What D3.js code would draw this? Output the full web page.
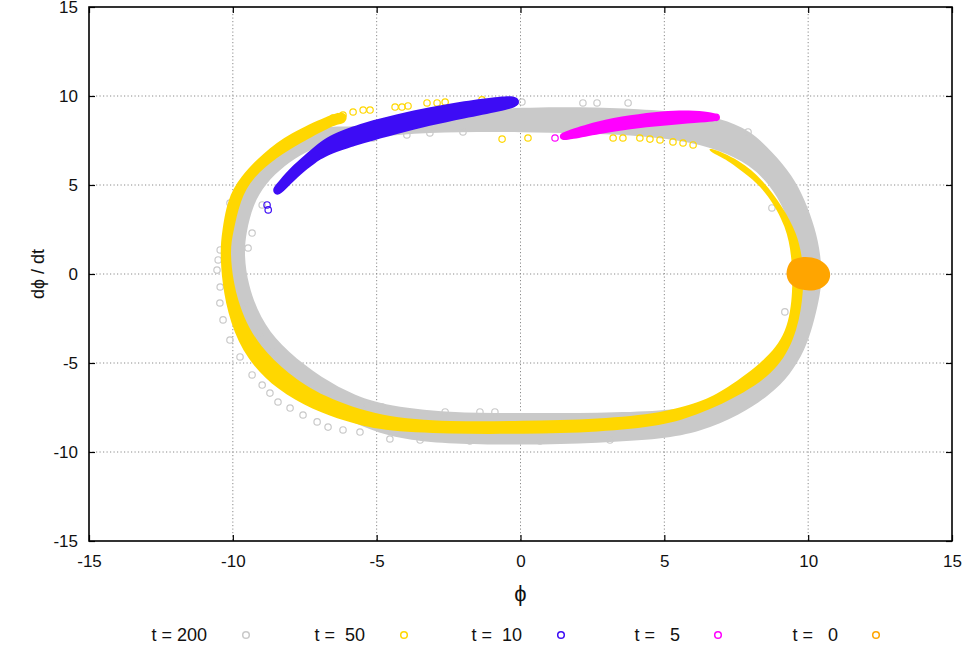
<!DOCTYPE html>
<html>
<head>
<meta charset="utf-8">
<script src="https://cdn.jsdelivr.net/npm/d3@7/dist/d3.min.js"></script>
<style>
  html, body { margin: 0; padding: 0; background: #fff; }
  svg { display: block; font-family: "Liberation Sans", Arial, Helvetica, sans-serif; }
  text { white-space: pre; }
</style>
</head>
<body>
<svg id="chart" width="965" height="648"></svg>
<script>
// Phase portrait (phi, dphi/dt) of an ensemble at several times.
// Dense clouds are given by their boundary samples; isolated points are listed separately.

const tickValues = [-15, -10, -5, 0, 5, 10, 15];
const tickLabels = ["-15", "-10", "-5", "0", "5", "10", "15"];

const legendLabels = ["t = 200", "t =  50", "t =  10", "t =   5", "t =   0"];
const seriesColors = ["#c9c9c9", "#ffd700", "#3d0cf5", "#ff00ff", "#ffa500"];

// t = 200 : closed band, outer and inner boundary
const t200Outer = [
  [-10.24, 0.00], [-10.27, 1.35], [-10.17, 2.30], [-9.99, 4.16], [-9.54, 5.45],
  [-8.71, 6.57], [-7.84, 7.53], [-7.32, 8.03], [-6.62, 8.31], [-6.10, 8.26],
  [-5.23, 8.37], [-3.49, 8.76], [-1.76, 9.10], [0.02, 9.38], [2.07, 9.38],
  [4.15, 9.27], [5.89, 9.04], [6.93, 8.76], [7.98, 8.09], [8.78, 6.80],
  [9.44, 5.56], [9.89, 4.16], [10.24, 2.58], [10.44, 1.07], [10.48, -0.34],
  [10.38, -1.46], [10.17, -2.87], [9.89, -4.27], [9.37, -5.67], [8.67, -6.80],
  [7.63, -7.92], [6.24, -8.88], [4.95, -9.27], [2.76, -9.49], [0.02, -9.61],
  [-2.45, -9.55], [-3.84, -9.33], [-4.88, -8.99], [-6.10, -8.15], [-7.04, -7.30],
  [-8.19, -6.52], [-9.26, -4.83], [-9.85, -2.58], [-10.17, -1.18]
];
const t200Inner = [
  [-6.62, 7.42], [-4.19, 7.87], [-2.10, 7.98], [0.02, 7.98], [2.07, 7.92],
  [3.81, 7.81], [5.54, 7.53], [6.93, 6.97], [7.98, 6.12], [8.67, 5.00],
  [9.19, 3.60], [9.54, 1.91], [9.72, 0.22], [9.72, -1.18], [9.54, -2.58],
  [9.19, -3.99], [8.60, -5.28], [7.63, -6.52], [6.24, -7.42], [4.95, -7.70],
  [2.76, -7.81], [0.02, -7.81], [-2.45, -7.81], [-4.88, -7.36], [-6.03, -6.63],
  [-7.21, -5.51], [-8.36, -3.99], [-9.05, -2.47], [-9.47, -0.62], [-9.61, 1.07],
  [-9.54, 2.30], [-9.30, 3.88], [-8.88, 5.06], [-8.19, 6.12], [-7.49, 6.85]
];
const t200Scatter = [
  [-6.27, 7.36], [-5.86, 7.36], [-5.13, 7.64], [-3.95, 7.81], [-3.15, 7.92],
  [-2.00, 7.98], [0.05, 9.66], [2.17, 9.61], [2.66, 9.61], [3.74, 9.61],
  [7.91, 7.98], [8.74, 3.71], [9.19, -2.13],
  [-2.62, -7.75], [-1.41, -7.75], [-0.89, -7.75], [-4.81, -7.47],
  [-4.54, -9.27], [-3.49, -9.33], [-1.76, -9.38], [0.68, -9.38], [3.11, -9.33],
  [-10.55, 0.22], [-10.45, -1.63], [-10.34, -2.58], [-10.10, -3.71], [-9.75, -4.66],
  [-9.33, -5.67], [-8.98, -6.24], [-8.71, -6.69], [-8.43, -7.19], [-8.01, -7.53],
  [-7.56, -7.92], [-7.07, -8.31], [-6.69, -8.60], [-6.17, -8.76], [-5.58, -8.88],
  [-9.47, -1.74], [-9.05, -3.31], [-8.60, -4.38], [-7.91, -5.67], [-6.80, -6.69],
  [-5.34, -7.36], [-10.44, 1.35], [-10.51, 0.79], [-10.44, -0.73], [-10.10, 3.99],
  [-9.47, 1.46], [-9.33, 2.30], [-8.98, 3.88]
];

// t = 50 : open band (outer edge, then inner edge in the same direction)
const t50Outer = [
  [6.48, 7.19], [7.63, 6.40], [8.43, 5.28], [9.12, 3.76], [9.61, 2.30],
  [9.82, 0.79], [9.85, -0.90], [9.65, -3.15], [9.02, -5.28], [7.80, -6.69],
  [6.24, -7.87], [4.95, -8.54], [2.76, -8.88], [0.02, -8.99], [-2.45, -8.99],
  [-4.88, -8.82], [-6.10, -8.26], [-7.21, -7.64], [-8.46, -6.52], [-9.51, -4.83],
  [-10.10, -2.75], [-10.38, -0.51], [-10.44, 1.35], [-10.38, 2.30], [-10.20, 4.16],
  [-9.75, 5.45], [-8.95, 6.80], [-8.01, 7.92], [-6.62, 8.93], [-6.27, 9.10],
  [-6.08, 9.02], [-6.02, 8.74], [-6.12, 8.48]
];
const t50Inner = [
  [6.59, 6.85], [7.04, 6.57], [7.98, 5.45], [8.57, 4.55], [9.26, 2.64],
  [9.44, 0.79], [9.47, -0.90], [9.30, -3.31], [8.43, -5.00], [6.93, -6.69],
  [6.24, -7.19], [4.95, -7.81], [2.76, -8.15], [0.02, -8.26], [-2.45, -8.31],
  [-4.88, -8.03], [-6.86, -6.91], [-8.12, -5.56], [-9.05, -4.10], [-9.65, -2.42],
  [-9.99, -0.51], [-10.10, 1.35], [-9.99, 2.30], [-9.75, 4.16], [-9.30, 5.45],
  [-8.46, 6.57], [-7.66, 7.36], [-6.62, 8.26], [-6.27, 8.43]
];
const t50Scatter = [
  [-6.52, 8.76], [-6.17, 8.93], [-5.82, 9.10], [-5.47, 9.21], [-5.23, 9.21],
  [-4.36, 9.38], [-4.12, 9.38], [-3.91, 9.44], [-3.25, 9.61], [-2.90, 9.61],
  [-2.62, 9.66], [-1.34, 9.78], [-0.64, 7.58], [0.26, 7.64],
  [3.22, 7.64], [3.56, 7.64], [4.15, 7.64], [4.50, 7.58], [4.85, 7.53],
  [5.30, 7.42], [5.65, 7.36], [6.00, 7.25]
];

// t = 10 : band upper edge (left to right), lower edge (right to left)
const t10Upper = [
  [-8.46, 5.10], [-8.08, 5.83], [-7.66, 6.45], [-7.14, 7.18], [-6.62, 7.85],
  [-5.40, 8.53], [-4.29, 8.98], [-3.15, 9.37], [-2.00, 9.71], [-0.61, 9.99],
  [-0.23, 9.99], [-0.07, 9.85], [-0.05, 9.60]
];
const t10Lower = [
  [-0.16, 9.36], [-0.61, 9.18], [-2.00, 8.73], [-3.15, 8.33], [-4.29, 7.88],
  [-5.40, 7.38], [-6.62, 6.76], [-7.14, 6.25], [-7.66, 5.58], [-8.08, 4.91],
  [-8.39, 4.39], [-8.58, 4.50], [-8.62, 4.80]
];
const t10Scatter = [[-8.81, 3.88], [-8.77, 3.60], [-0.19, 9.66]];

// t = 5 : band upper edge (left to right), lower edge (right to left)
const t5Upper = [
  [1.48, 7.98], [2.66, 8.60], [3.81, 8.93], [4.95, 9.16], [5.89, 9.21],
  [6.59, 9.10], [6.83, 8.98], [6.93, 8.86], [6.92, 8.68]
];
const t5Lower = [
  [6.76, 8.55], [6.13, 8.50], [4.95, 8.33], [3.81, 8.15], [2.76, 7.88],
  [1.72, 7.55], [1.48, 7.50], [1.36, 7.62], [1.37, 7.85]
];
const t5Scatter = [[1.20, 7.64], [6.80, 8.80]];

// t = 0 : compact cloud boundary
const t0Boundary = [
  [9.26, 0.34], [9.40, 0.79], [9.72, 0.96], [10.13, 0.96], [10.51, 0.73],
  [10.79, 0.22], [10.76, -0.39], [10.51, -0.79], [10.13, -0.96], [9.72, -0.90],
  [9.37, -0.62], [9.23, -0.11]
];

const svg = d3.select("#chart");
const x = d3.scaleLinear().domain([-15, 15]).range([89, 952]);
const y = d3.scaleLinear().domain([-15, 15]).range([541, 7]);

// grid
const grid = svg.append("g").attr("stroke", "#8a8a8a").attr("stroke-width", 1)
  .attr("stroke-dasharray", "1.2,2.3");
tickValues.slice(1, -1).forEach(v => {
  grid.append("line").attr("x1", x(v)).attr("x2", x(v)).attr("y1", y(15)).attr("y2", y(-15));
  grid.append("line").attr("x1", x(-15)).attr("x2", x(15)).attr("y1", y(v)).attr("y2", y(v));
});

const closed = d3.line().x(d => x(d[0])).y(d => y(d[1])).curve(d3.curveBasisClosed);

function drawScatter(pts, color) {
  svg.append("g").selectAll("circle").data(pts).join("circle")
    .attr("cx", d => x(d[0])).attr("cy", d => y(d[1])).attr("r", 3.2)
    .attr("fill", "none").attr("stroke", color).attr("stroke-width", 1.2);
}

// t = 200
svg.append("path").attr("d", closed(t200Outer) + closed(t200Inner))
  .attr("fill", seriesColors[0]).attr("fill-rule", "evenodd");
drawScatter(t200Scatter, seriesColors[0]);

// t = 50
svg.append("path").attr("d", closed(t50Outer.concat(t50Inner.slice().reverse())))
  .attr("fill", seriesColors[1]);
drawScatter(t50Scatter, seriesColors[1]);

// t = 10
svg.append("path").attr("d", closed(t10Upper.concat(t10Lower)))
  .attr("fill", seriesColors[2]);
drawScatter(t10Scatter, seriesColors[2]);

// t = 5
svg.append("path").attr("d", closed(t5Upper.concat(t5Lower)))
  .attr("fill", seriesColors[3]);
drawScatter(t5Scatter, seriesColors[3]);

// t = 0
svg.append("path").attr("d", closed(t0Boundary)).attr("fill", seriesColors[4]);

// axes with inward ticks on all four sides
const fmt = (d) => tickLabels[tickValues.indexOf(d)];
const axB = svg.append("g").attr("transform", `translate(0,${y(-15)})`)
  .call(d3.axisBottom(x).tickValues(tickValues).tickFormat(fmt).tickSize(-6).tickSizeOuter(0).tickPadding(14));
const axL = svg.append("g").attr("transform", `translate(${x(-15)},0)`)
  .call(d3.axisLeft(y).tickValues(tickValues).tickFormat(fmt).tickSize(-6).tickSizeOuter(0).tickPadding(11));
const axT = svg.append("g").attr("transform", `translate(0,${y(15)})`)
  .call(d3.axisTop(x).tickValues(tickValues).tickFormat("").tickSize(-6).tickSizeOuter(0));
const axR = svg.append("g").attr("transform", `translate(${x(15)},0)`)
  .call(d3.axisRight(y).tickValues(tickValues).tickFormat("").tickSize(-6).tickSizeOuter(0));
[axB, axL, axT, axR].forEach(a => {
  a.select(".domain").remove();
  a.selectAll(".tick line").attr("stroke", "#000").attr("stroke-width", 1.2);
  a.selectAll("text").attr("font-size", 17).attr("fill", "#111")
    .attr("font-family", "'Liberation Sans', Arial, sans-serif");
});

// frame
svg.append("rect").attr("x", x(-15)).attr("y", y(15))
  .attr("width", x(15) - x(-15)).attr("height", y(-15) - y(15))
  .attr("fill", "none").attr("stroke", "#000").attr("stroke-width", 1.6);

// axis titles
svg.append("text").attr("x", x(0)).attr("y", 601).attr("text-anchor", "middle")
  .attr("font-size", 22).attr("fill", "#111").text("ϕ");
svg.append("text").attr("transform", `translate(44,${y(0)}) rotate(-90)`)
  .attr("text-anchor", "middle").attr("font-size", 18).attr("fill", "#111").text("dϕ / dt");

// legend
const legendTextRight = [207, 365, 522, 680, 838];
const legendMarkX = [246, 404, 561, 718, 876];
legendLabels.forEach((lab, i) => {
  svg.append("text").attr("x", legendTextRight[i]).attr("y", 641)
    .attr("text-anchor", "end").attr("font-size", 18).attr("fill", "#111")
    .attr("xml:space", "preserve").text(lab);
  svg.append("circle").attr("cx", legendMarkX[i]).attr("cy", 635).attr("r", 3.3)
    .attr("fill", "none").attr("stroke", seriesColors[i]).attr("stroke-width", 1.5);
});
</script>
</body>
</html>
